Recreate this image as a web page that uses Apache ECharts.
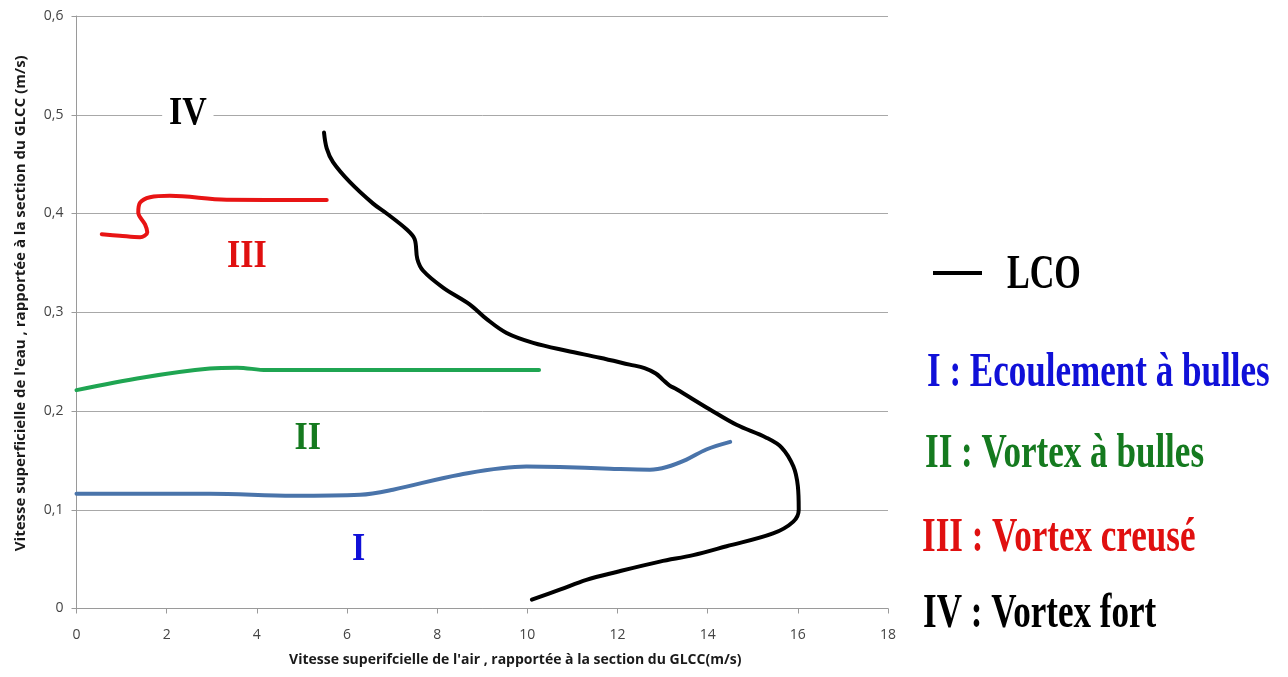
<!DOCTYPE html>
<html><head><meta charset="utf-8">
<script src="https://cdn.jsdelivr.net/npm/echarts@6/dist/echarts.min.js"></script>
<style>html,body{margin:0;padding:0;background:#fff}#c{width:1288px;height:677px}</style>
</head><body><div id="c"></div>
<script>
// ---- data ----
const xTicks = [0, 2, 4, 6, 8, 10, 12, 14, 16, 18];
const yTicks = [0, 0.1, 0.2, 0.3, 0.4, 0.5, 0.6];

const lcoX = [5.49, 5.55, 5.69, 6.06, 6.58, 6.88, 7.32, 7.50, 7.56, 7.69, 8.13, 8.72, 9.10, 9.54, 10.13, 10.87, 11.61, 12.27, 12.60, 12.85, 13.00, 13.15, 13.31, 14.05, 14.64, 15.30, 15.64, 15.90, 16.00, 16.02, 15.90, 15.45, 14.42, 13.68, 12.94, 11.98, 11.31, 10.72, 10.10];
const lcoY = [0.482, 0.466, 0.452, 0.432, 0.410, 0.400, 0.384, 0.374, 0.354, 0.342, 0.325, 0.308, 0.293, 0.279, 0.269, 0.261, 0.254, 0.247, 0.2435, 0.238, 0.232, 0.226, 0.222, 0.2015, 0.186, 0.173, 0.163, 0.144, 0.124, 0.100, 0.088, 0.076, 0.063, 0.054, 0.0475, 0.037, 0.029, 0.019, 0.009];

const bullesX = [0, 2.96, 4.81, 6.29, 7.02, 8.50, 9.98, 10.72, 11.83, 12.72, 13.09, 13.53, 13.97, 14.50];
const bullesY = [0.1162, 0.1162, 0.1142, 0.1152, 0.1203, 0.1355, 0.1437, 0.1433, 0.1416, 0.1406, 0.1433, 0.1508, 0.161, 0.1687];

const vortexBX = [0, 1.48, 2.96, 3.56, 4.22, 7.00, 10.26];
const vortexBY = [0.2211, 0.234, 0.243, 0.2439, 0.2414, 0.2414, 0.2414];

const creuseX = [0.56, 0.96, 1.41, 1.57, 1.52, 1.37, 1.41, 1.63, 2.07, 3.33, 5.55];
const creuseY = [0.379, 0.3775, 0.376, 0.381, 0.389, 0.401, 0.411, 0.4165, 0.418, 0.414, 0.4137];

// region annotations: [x, y, text]
const regionLabels = [
  [2.47, 0.501, 'IV'],
  [3.78, 0.356, 'III'],
  [5.13, 0.172, 'II'],
  [6.26, 0.060, 'I']
];
const regionColors = ['#000000', '#e01010', '#157a1f', '#1010d8'];

const legendTexts = ['LCO', 'I : Ecoulement à bulles', 'II : Vortex à bulles', 'III : Vortex creusé', 'IV : Vortex fort'];
const legendColors = ['#000000', '#1010d8', '#157a1f', '#e01010', '#000000'];

const xName = "Vitesse superifcielle de l'air , rapportée à la section du GLCC(m/s)";
const yName = "Vitesse superficielle de l'eau , rapportée à la section du GLCC (m/s)";

// ---- chart ----
const zip = (a, b) => a.map((v, i) => [v, b[i]]);
const chart = echarts.init(document.getElementById('c'), null, {renderer: 'canvas'});
const lineS = (name, xs, ys, color, w) => ({
  name, type: 'line', data: zip(xs, ys), smooth: 0.35, showSymbol: false, symbol: 'none',
  lineStyle: {color, width: w, cap: 'round', join: 'round'}, silent: true, z: 3
});

chart.setOption({
  animation: false,
  backgroundColor: '#ffffff',
  grid: {left: 76.5, right: 400, top: 16, bottom: 68.5, containLabel: false},
  xAxis: {
    type: 'value', min: 0, max: 18, interval: 2,
    name: xName, nameLocation: 'middle', nameGap: 45,
    nameTextStyle: {fontFamily: 'Open Sans', fontWeight: 'bold', fontSize: 14, color: '#1a1a1a', padding: [0, 0, 0, 66]},
    axisLine: {show: true, onZero: false, lineStyle: {color: '#9a9a9a', width: 1}},
    axisTick: {show: true, length: 5, lineStyle: {color: '#9a9a9a'}},
    axisLabel: {fontFamily: 'Open Sans', fontSize: 14, color: '#444', margin: 20,
      formatter: v => xTicks.includes(v) ? String(v) : ''},
    splitLine: {show: false}
  },
  yAxis: {
    type: 'value', min: 0, max: 0.6, interval: 0.1,
    name: yName, nameLocation: 'middle', nameGap: 48, nameRotate: 90,
    nameTextStyle: {fontFamily: 'Open Sans', fontWeight: 'bold', fontSize: 15, color: '#1a1a1a', padding: [0, 0, 0, 18]},
    axisLine: {show: true, lineStyle: {color: '#9a9a9a', width: 1}},
    axisTick: {show: true, length: 5, lineStyle: {color: '#9a9a9a'}},
    axisLabel: {fontFamily: 'Open Sans', fontSize: 14, color: '#444', margin: 13,
      formatter: v => { const t = yTicks.find(k => Math.abs(k - v) < 1e-9); return t === undefined ? '' : (t === 0 ? '0' : t.toFixed(1).replace('.', ',')); }},
    splitLine: {show: true, lineStyle: {color: '#a8a8a8', width: 1}}
  },
  series: [
    lineS('LCO', lcoX, lcoY, '#000000', 4),
    lineS('I', bullesX, bullesY, '#4a74aa', 4),
    lineS('II', vortexBX, vortexBY, '#1fa552', 4),
    lineS('III', creuseX, creuseY, '#e81414', 4)
  ]
});

// annotation texts placed through the axes' scales
const g = [];
regionLabels.forEach((r, i) => {
  const p = chart.convertToPixel({gridIndex: 0}, [r[0], r[1]]);
  g.push({
    type: 'text', x: p[0], y: p[1], scaleX: 0.85, z: 10,
    style: {text: r[2], fill: regionColors[i], font: 'bold 40px "Liberation Serif"', align: 'center', verticalAlign: 'middle',
      backgroundColor: i === 0 ? '#ffffff' : null, padding: i === 0 ? [0, 8] : 0}
  });
});
// legend on the right
g.push({type: 'line', shape: {x1: 933, y1: 273, x2: 982, y2: 273}, style: {stroke: '#000', lineWidth: 4}});
const legY = [276, 374, 455, 539, 615];
const legX = [1007, 927, 925, 922, 923];
legendTexts.forEach((t, i) => {
  g.push({
    type: 'text', x: legX[i], y: legY[i], scaleX: i === 0 ? 0.71 : 0.73,
    style: {text: t, fill: legendColors[i], font: 'bold 48px "Liberation Serif"', align: 'left', verticalAlign: 'middle'}
  });
});
chart.setOption({graphic: g});
</script>
</body></html>
